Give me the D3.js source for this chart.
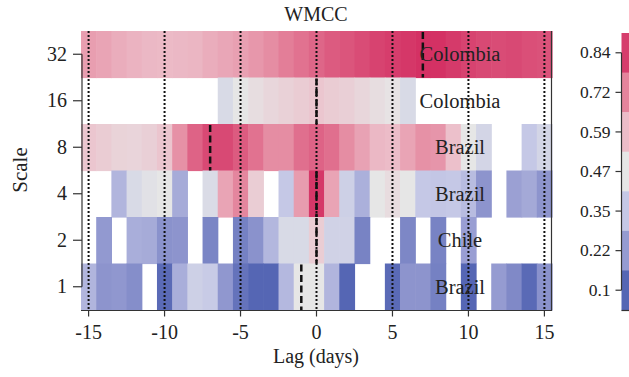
<!DOCTYPE html>
<html><head><meta charset="utf-8">
<script src="https://cdn.jsdelivr.net/npm/d3@7"></script>
<style>body{margin:0;background:#fff}svg{display:block}text{font-family:"Liberation Serif","Times New Roman",serif;fill:#222}</style>
</head><body><svg id="c" width="629" height="377"></svg>
<script>
const lags = [-15,-14,-13,-12,-11,-10,-9,-8,-7,-6,-5,-4,-3,-2,-1,0,1,2,3,4,5,6,7,8,9,10,11,12,13,14,15];
const scales = ["32","16","8","4","2","1"];
const countries = ["Colombia","Colombia","Brazil","Brazil","Chile","Brazil"];
const peakLag = [7,0,-7,0,0,-1];
const xTicks = [-15,-10,-5,0,5,10,15];
const legendTicks = [0.84,0.72,0.59,0.47,0.35,0.22,0.1];
const legendColors = ["#d63d6c","#e4849c","#ecbcc8","#e6e6e6","#c5c8e6","#959bd1","#5566b4"];
// values per scale row, lag -15..15 (null = no data)
const s32 = [0.66,0.645,0.625,0.61,0.6,0.595,0.6,0.605,0.625,0.64,0.655,0.675,0.70,0.73,0.75,0.77,0.79,0.80,0.815,0.83,0.84,0.85,0.86,0.86,0.845,0.83,0.82,0.815,0.82,0.81,0.805];
const s16 = [null,null,null,null,null,null,null,null,null,0.42,0.47,0.495,0.515,0.53,0.545,0.56,0.545,0.535,0.515,0.495,0.48,0.42,null,null,null,null,null,null,null,null,null];
const s8  = [0.56,0.545,0.525,0.52,0.535,0.565,0.69,0.775,0.82,0.82,0.79,0.75,0.70,0.70,0.755,0.775,0.755,0.70,0.65,0.60,0.59,0.645,0.69,0.68,0.58,0.47,0.40,null,null,0.35,0.40];
const s4  = [null,null,0.295,0.42,0.45,0.47,0.265,null,0.425,0.645,0.715,0.54,null,0.35,0.665,0.85,0.645,0.38,0.28,0.47,0.50,0.47,0.35,0.345,0.35,0.315,0.205,null,0.235,0.26,0.205];
const s2  = [null,0.215,null,0.275,0.265,0.20,0.205,null,0.17,null,0.16,0.20,0.30,0.42,0.42,0.54,0.39,0.39,0.165,null,null,0.175,null,0.165,null,0.23,null,null,null,null,null];
const s1  = [0.295,0.205,0.21,0.19,null,0.11,0.275,0.38,0.36,0.21,0.13,0.10,0.10,0.305,0.47,0.47,0.295,0.10,null,null,0.11,0.205,0.205,0.16,null,0.10,null,0.22,0.18,0.11,0.20];
const rows = [s32,s16,s8,s4,s2,s1];

const svg = d3.select("#c");
const x = d3.scaleBand().domain(lags).range([81,552]).padding(0);
const y = d3.scaleBand().domain(scales).range([31,310]).padding(0);
const color = d3.scaleLinear().domain(legendTicks.slice().reverse()).range(legendColors.slice().reverse());

const cells = [];
rows.forEach((r,i)=>r.forEach((v,j)=>{ if(v!==null) cells.push({s:scales[i],lag:lags[j],v}); }));
svg.append("g").selectAll("rect").data(cells).join("rect")
  .attr("x",d=>x(d.lag)).attr("y",d=>y(d.s))
  .attr("width",x.bandwidth()+0.6).attr("height",y.bandwidth()+0.6)
  .attr("fill",d=>color(d.v));

// dotted reference lines
svg.append("g").selectAll("line").data(xTicks).join("line")
  .attr("x1",d=>x(d)+x.bandwidth()/2).attr("x2",d=>x(d)+x.bandwidth()/2)
  .attr("y1",31).attr("y2",310)
  .attr("stroke","#111").attr("stroke-width",2).attr("stroke-dasharray","2,2");

// peak dashed markers
svg.append("g").selectAll("line").data(scales.map((s,i)=>({s,lag:peakLag[i]}))).join("line")
  .attr("x1",d=>x(d.lag)+x.bandwidth()/2).attr("x2",d=>x(d.lag)+x.bandwidth()/2)
  .attr("y1",d=>y(d.s)+1).attr("y2",d=>y(d.s)+y.bandwidth())
  .attr("stroke","#111").attr("stroke-width",2.5).attr("stroke-dasharray","7,3.5");

// country labels
svg.append("g").selectAll("text").data(scales.map((s,i)=>({s,c:countries[i]}))).join("text")
  .attr("x",460).attr("y",d=>y(d.s)+y.bandwidth()/2).attr("dy","0.35em")
  .attr("text-anchor","middle").style("font-size","20.5px").text(d=>d.c);

// frame: bottom and right
svg.append("line").attr("x1",81).attr("x2",552).attr("y1",310.5).attr("y2",310.5).attr("stroke","#333").attr("stroke-width",1.2);
svg.append("line").attr("x1",551.5).attr("x2",551.5).attr("y1",31).attr("y2",310.5).attr("stroke","#333").attr("stroke-width",1.2);

// x axis
const xa = svg.append("g").attr("transform","translate(0,310.5)")
  .call(d3.axisBottom(x).tickValues(xTicks).tickSize(6).tickPadding(8).tickSizeOuter(0));
xa.select(".domain").remove();
xa.selectAll("line").attr("stroke","#333").attr("stroke-width",1.2);
xa.selectAll("text").style("font-size","20px").attr("fill","#222");

// y axis (R style: line from first to last tick)
const ya = svg.append("g").attr("transform","translate(82,0)")
  .call(d3.axisLeft(y).tickSize(9).tickPadding(6).tickSizeOuter(0));
ya.select(".domain").remove();
ya.append("line").attr("x1",0).attr("x2",0)
  .attr("y1",y("32")+y.bandwidth()/2).attr("y2",y("1")+y.bandwidth()/2).attr("stroke","#333").attr("stroke-width",1.2);
ya.selectAll(".tick line").attr("stroke","#333").attr("stroke-width",1.2);
ya.selectAll("text").style("font-size","20px").attr("fill","#222");

// titles
svg.append("text").attr("x",316).attr("y",21).attr("text-anchor","middle").style("font-size","20px").text("WMCC");
svg.append("text").attr("x",316).attr("y",363).attr("text-anchor","middle").style("font-size","20px").text("Lag (days)");
svg.append("text").attr("transform","translate(27,170) rotate(-90)").attr("text-anchor","middle").style("font-size","21px").text("Scale");

// legend
const ly = d3.scaleBand().domain(legendTicks).range([33,310]).padding(0);
const lg = svg.append("g");
lg.selectAll("rect").data(legendTicks).join("rect")
  .attr("x",621.5).attr("y",d=>ly(d)).attr("width",12).attr("height",ly.bandwidth()+0.5)
  .attr("fill",d=>color(d));
lg.append("line").attr("x1",621.5).attr("x2",634).attr("y1",310.5).attr("y2",310.5).attr("stroke","#333").attr("stroke-width",1.2);
const la = lg.append("g").attr("transform","translate(621.5,0)")
  .call(d3.axisLeft(ly).tickSize(6).tickPadding(5).tickSizeOuter(0));
la.select(".domain").remove();
la.append("line").attr("x1",0).attr("x2",0).attr("y1",ly(0.84)+ly.bandwidth()/2).attr("y2",ly(0.1)+ly.bandwidth()/2).attr("stroke","#333").attr("stroke-width",1.2);
la.selectAll(".tick line").attr("stroke","#333").attr("stroke-width",1.2);
la.selectAll("text").style("font-size","17.5px").attr("fill","#222");
</script></body></html>
